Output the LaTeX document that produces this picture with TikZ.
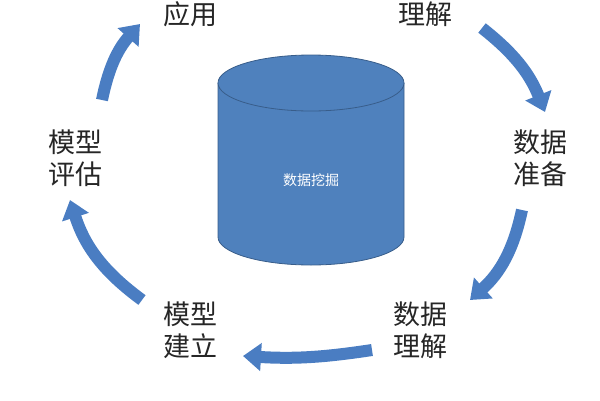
\documentclass[tikz,border=0pt]{standalone}
\usepackage{fontspec}
\newfontfamily\cjk{Noto Sans CJK SC}
\usetikzlibrary{arrows.meta,shapes.geometric}
\definecolor{bl}{HTML}{4F81BD}
\definecolor{bd}{HTML}{385D8A}
\definecolor{ar}{HTML}{4A7DC2}
\begin{document}
\begin{tikzpicture}[x=1pt,y=-1pt,
  lab/.style={font=\cjk\fontsize{27}{32}\selectfont,align=center,text=black!85},
  cyc/.style={draw=ar,line width=12pt,-{Triangle[width=27pt,length=18pt]}}]
\useasboundingbox (0,0) rectangle (600,400);
% cylinder
\fill[bl] (218,83) -- (218,237) arc[start angle=180,end angle=0,x radius=93,y radius=28] -- (404,83) -- cycle;
\draw[bd,line width=0.8pt] (218,83) -- (218,237) arc[start angle=180,end angle=0,x radius=93,y radius=28] -- (404,83);
\draw[bd,line width=0.8pt,fill=bl] (311,83) ellipse[x radius=93,y radius=28];
\node[font=\cjk\fontsize{14}{16}\selectfont,text=white] (dm) at (311,180) {数据挖掘};
% labels
\node[lab] (a) at (190,14) {应用};
\node[lab] (b) at (425,14) {理解};
\node[lab] (c) at (540,158) {数据\\准备};
\node[lab] (d) at (420,330) {数据\\理解};
\node[lab] (e) at (190,330) {模型\\建立};
\node[lab] (f) at (75,158) {模型\\评估};
% arrows
\coordinate (s1) at (482,28); \coordinate (t1) at (545,112);
\coordinate (s2) at (522,210); \coordinate (t2) at (470,300);
\coordinate (s3) at (372,350); \coordinate (t3) at (243,356);
\coordinate (s4) at (142,300); \coordinate (t4) at (70,200);
\coordinate (s5) at (102,100); \coordinate (t5) at (140,24);
\draw[cyc] (s1) to[bend left=15] (t1);
\draw[cyc] (s2) to[bend left=18] (t2);
\draw[cyc] (s3) to[bend left=6] (t3);
\draw[cyc] (s4) to[bend left=18] (t4);
\draw[cyc] (s5) to[bend left=15] (t5);
\end{tikzpicture}
\end{document}
